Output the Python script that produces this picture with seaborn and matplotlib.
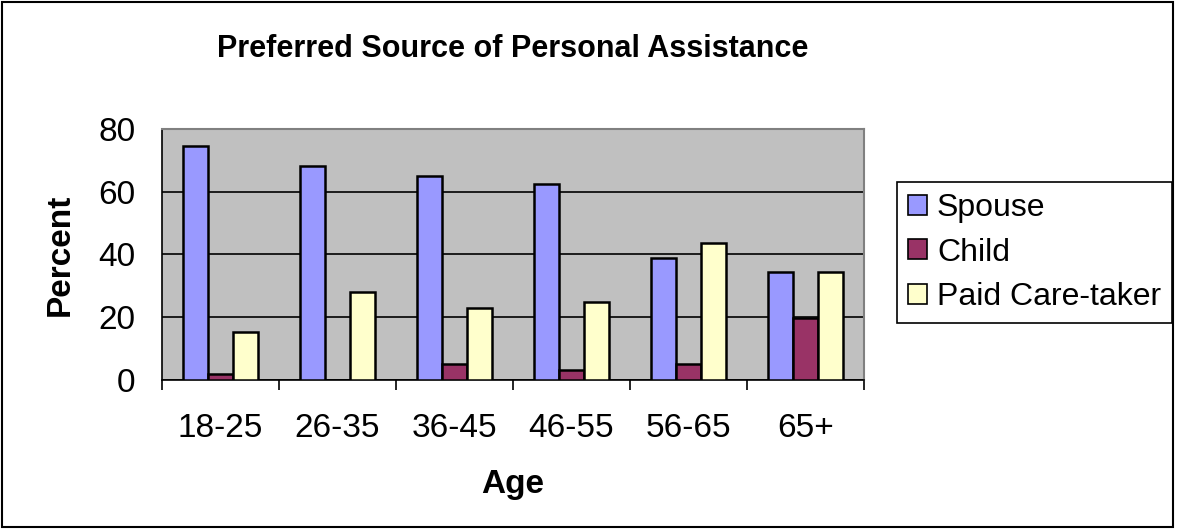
import matplotlib
matplotlib.use("Agg")
import matplotlib.pyplot as plt
from matplotlib.patches import Rectangle
import seaborn as sns
import pandas as pd

# Données
ages = ["18-25", "26-35", "36-45", "46-55", "56-65", "65+"]
spouse = [74.5, 68.2, 64.9, 62.4, 38.9, 34.4]
child = [1.8, 0.0, 5.1, 3.2, 5.0, 19.6]
paid = [15.3, 28.0, 22.9, 24.7, 43.8, 34.4]
sources = ["Spouse", "Child", "Paid Care-taker"]
couleurs = ["#9999FF", "#993366", "#FFFFCC"]

df = pd.DataFrame({
    "Age": ages * 3,
    "Percent": spouse + child + paid,
    "Source": [s for s in sources for _ in ages],
})

sns.set_style("white")
plt.rcParams["font.family"] = ["Liberation Sans", "DejaVu Sans"]
plt.rcParams["text.color"] = "black"
plt.rcParams["axes.labelcolor"] = "black"
plt.rcParams["xtick.color"] = "black"
plt.rcParams["ytick.color"] = "black"

fig = plt.figure(figsize=(11.77, 5.29), dpi=100)
ax = fig.add_axes([0.1376, 0.2817, 0.5964, 0.4745])

sns.barplot(data=df, x="Age", y="Percent", hue="Source", order=ages,
            hue_order=sources, palette=couleurs, saturation=1, width=0.64, gap=0,
            edgecolor="black", linewidth=1.8, ax=ax, legend=False, zorder=3)

ax.set_facecolor("#C0C0C0")
ax.set_ylim(0, 80)
ax.set_xlim(-0.5, len(ages) - 0.5)
ax.set_yticks([0, 20, 40, 60, 80])
ax.yaxis.grid(True, color="black", linewidth=1.2, zorder=0)
ax.set_axisbelow(True)

for side in ["top", "right"]:
    ax.spines[side].set_color("#808080")
    ax.spines[side].set_linewidth(1.5)
for side in ["left", "bottom"]:
    ax.spines[side].set_color("black")
    ax.spines[side].set_linewidth(1.2)

ax.tick_params(axis="y", direction="out", length=7, width=1.2, labelsize=24, pad=12)
ax.tick_params(axis="x", which="major", length=0, labelsize=24, pad=24)
ax.set_xticks([i - 0.5 for i in range(len(ages) + 1)], minor=True)
ax.tick_params(axis="x", which="minor", direction="out", length=7, width=1.2, bottom=True)

ax.set_xlabel("Age", fontsize=24, fontweight="bold", labelpad=18)
ax.set_ylabel("Percent", fontsize=24, fontweight="bold", labelpad=16)
ax.set_title("Preferred Source of Personal Assistance", fontsize=22,
             fontweight="bold", pad=52)

handles = [Rectangle((0, 0), 1, 1, facecolor=c, edgecolor="black", linewidth=1.2)
           for c in couleurs]
leg = fig.legend(handles, sources, loc="upper left",
                 bbox_to_anchor=(897 / 1177, 1 - 182 / 529),
                 fontsize=23, frameon=True, fancybox=False, edgecolor="black",
                 framealpha=1, handlelength=0.6, handleheight=0.6, handletextpad=0.3,
                 labelspacing=0.45, borderpad=0.35, borderaxespad=0)
leg.get_frame().set_linewidth(1.2)

fig.patches.append(Rectangle((0.002, 0.003), 0.995, 0.994, transform=fig.transFigure,
                             fill=False, edgecolor="black", linewidth=1.5))

fig.savefig("out.png", dpi=100)
